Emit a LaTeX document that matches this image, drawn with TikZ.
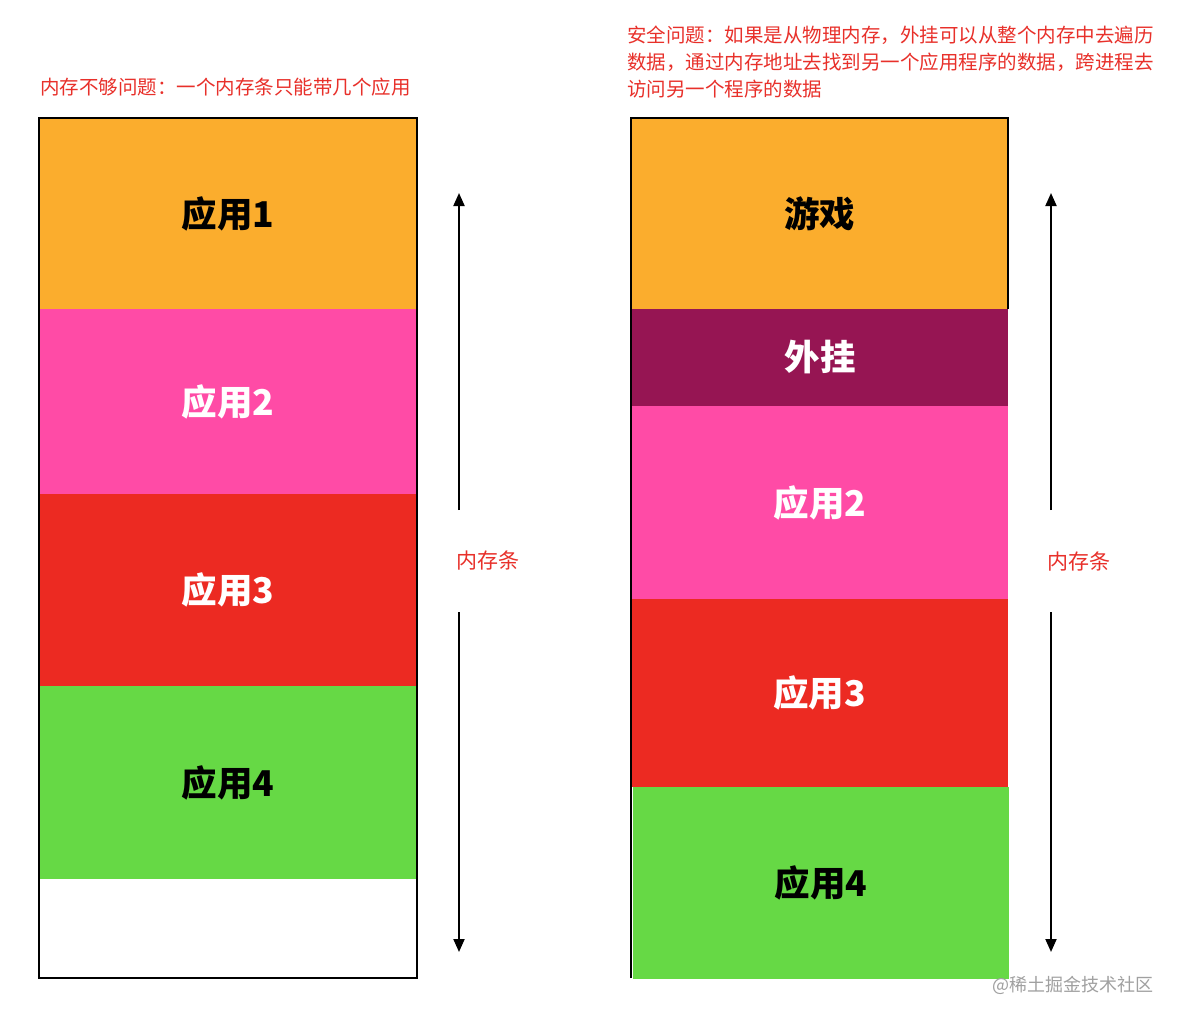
\documentclass[tikz,border=0pt]{standalone}
\usepackage{fontspec}
\setmainfont{Noto Sans CJK SC}
\usetikzlibrary{arrows.meta}
\definecolor{cOrange}{HTML}{FBAD2D}
\definecolor{cPink}{HTML}{FF4BA6}
\definecolor{cRed}{HTML}{EC2A22}
\definecolor{cGreen}{HTML}{66D945}
\definecolor{cPurple}{HTML}{961553}
\definecolor{cTitle}{HTML}{E8302A}
\definecolor{cMark}{HTML}{A0A0A0}
\begin{document}
\begin{tikzpicture}[x=1pt,y=-1pt,
  block/.style={inner sep=0pt, minimum width=376pt, draw=none, font=\fontsize{35.5}{40}\selectfont\bfseries},
  darktext/.style={text=black},
  lighttext/.style={text=white},
  title/.style={inner sep=0pt, anchor=west, text=cTitle, font=\fontsize{19.5}{27}\selectfont, align=left},
  memlabel/.style={inner sep=0pt, text=cTitle, font=\fontsize{21}{24}\selectfont},
  memarrow/.style={line width=2pt, -{Triangle[width=11pt,length=13pt]}},
  border/.style={line width=1.5pt, black}
]
\fill[white] (0,0) rectangle (1180,1022);
\useasboundingbox (0,0) rectangle (1180,1022);

% titles
\node[title] (t1) at (40,87) {内存不够问题：一个内存条只能带几个应用};
\node[title] (t2) at (627,62) {安全问题：如果是从物理内存，外挂可以从整个内存中去遍历\\数据，通过内存地址去找到另一个应用程序的数据，跨进程去\\访问另一个程序的数据};

% left memory bar
\node[block, darktext, fill=cOrange, minimum height=191pt] (l1) at (228,213.5) {应用1};
\node[block, lighttext, fill=cPink, minimum height=185pt] (l2) at (228,401.5) {应用2};
\node[block, lighttext, fill=cRed, minimum height=192pt] (l3) at (228,590) {应用3};
\node[block, darktext, fill=cGreen, minimum height=193pt] (l4) at (228,782.5) {应用4};
\draw[border] (39,118) rectangle (417,978);

% right memory bar
\node[block, darktext, fill=cOrange, minimum height=191pt, minimum width=377pt] (r1) at (819.5,213.5) {游戏};
\node[block, lighttext, fill=cPurple, minimum height=97pt] (r2) at (820,357.5) {外挂};
\node[block, lighttext, fill=cPink, minimum height=193pt] (r3) at (820,502.5) {应用2};
\node[block, lighttext, fill=cRed, minimum height=188pt, minimum width=377pt] (r4) at (819.5,693) {应用3};
\node[block, darktext, fill=cGreen, minimum height=192pt] (r5) at (821,883) {应用4};
\draw[border] (631,978) -- (631,118) -- (1008,118) -- (1008,309);

% memory labels and arrows
\node[memlabel] (m1) at (488,561) {内存条};
\coordinate (m1top) at (459,193);
\coordinate (m1bot) at (459,952);
\coordinate (m1a) at (459,510);
\coordinate (m1b) at (459,612);
\draw[memarrow] (m1a) -- (m1top);
\draw[memarrow] (m1b) -- (m1bot);

\node[memlabel] (m2) at (1079,562) {内存条};
\coordinate (m2top) at (1051,193);
\coordinate (m2bot) at (1051,952);
\coordinate (m2a) at (1051,510);
\coordinate (m2b) at (1051,612);
\draw[memarrow] (m2a) -- (m2top);
\draw[memarrow] (m2b) -- (m2bot);

% watermark
\node[inner sep=0pt, anchor=east, text=cMark, font=\fontsize{18}{20}\selectfont] (wm) at (1154,985) {@稀土掘金技术社区};
\end{tikzpicture}
\end{document}
